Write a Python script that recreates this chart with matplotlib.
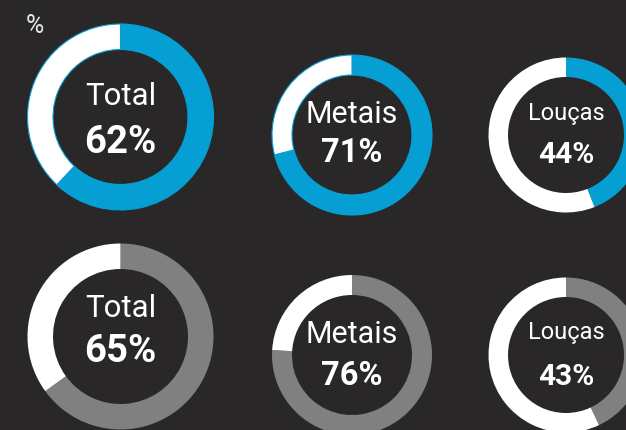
import matplotlib.pyplot as plt

# dados
categorias = ["Total", "Metais", "Louças"]
valores_linha1 = [62, 71, 44]
valores_linha2 = [65, 76, 43]
cores_linhas = ["#069fd3", "#808080"]

FUNDO = "#2a2728"
W, H = 626, 431

plt.rcParams['font.family'] = ['Roboto', 'DejaVu Sans']

# layout em pixels (centro a partir do topo, raio externo, largura do anel)
centros_x = [120.5, 352, 566]
centros_y = [[118, 136, 136], [337.5, 356, 356]]
raios = [93, 80, 77.5]
larguras = [25.5, 20, 19.5]
tam_nome = [22.5, 22, 17]
tam_valor = [27.5, 23.5, 21.5]
# linhas de base dos textos (pixels a partir do topo)
base_nome = [[105, 123, 120], [317, 343, 339]]
base_valor = [[153, 162, 163], [362, 385, 385]]
# contorno fino só nos anéis azuis maiores
contorno = [[True, True, False], [False, False, False]]

fig = plt.figure(figsize=(W / 100, H / 100), dpi=100, facecolor=FUNDO)
ax = fig.add_axes([0, 0, 1, 1])
ax.set_facecolor(FUNDO)

for linha, valores in enumerate([valores_linha1, valores_linha2]):
    cor = cores_linhas[linha]
    for i, (nome, v) in enumerate(zip(categorias, valores)):
        cx = centros_x[i]
        cy = H - centros_y[linha][i]
        borda = cor if contorno[linha][i] else "none"
        ax.pie([v, 100 - v], colors=[cor, "white"], startangle=90, counterclock=False,
               center=(cx, cy), radius=raios[i],
               wedgeprops=dict(width=larguras[i], edgecolor=borda, linewidth=0.8))
        ax.text(cx, H - base_nome[linha][i], nome, ha="center", va="baseline",
                color="white", fontsize=tam_nome[i])
        ax.text(cx, H - base_valor[linha][i], f"{v}%", ha="center", va="baseline",
                color="white", fontsize=tam_valor[i], fontweight="bold")

ax.text(26, H - 33, "%", ha="left", va="baseline", color="#e6e6e6", fontsize=18)

ax.set_xlim(0, W)
ax.set_ylim(0, H)
ax.set_aspect("auto")
ax.axis("off")

fig.savefig("out.png", dpi=100, facecolor=FUNDO)
